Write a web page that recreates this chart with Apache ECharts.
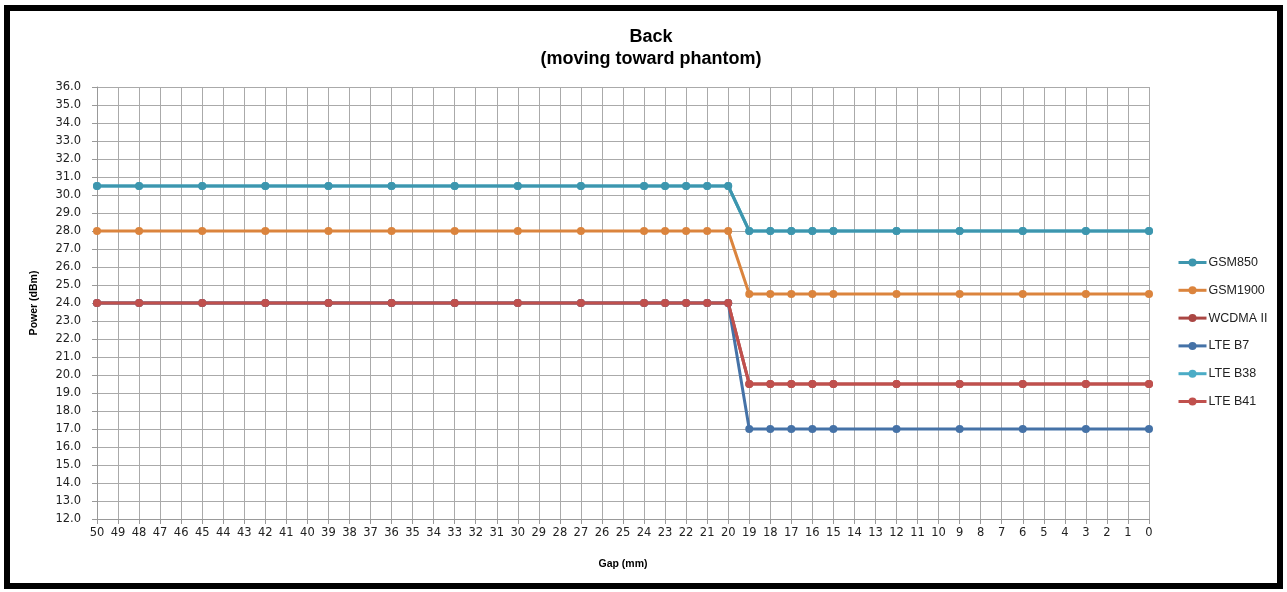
<!DOCTYPE html>
<html>
<head>
<meta charset="utf-8">
<script src="https://cdn.jsdelivr.net/npm/echarts@6/dist/echarts.min.js"></script>
<style>
html,body{margin:0;padding:0;background:#fff;}
#c{width:1287px;height:592px;}
</style>
</head>
<body>
<div id="c"></div>
<script>
// Category labels (gap in mm)
var gapLabels = ['50','49','48','47','46','45','44','43','42','41','40','39','38','37','36','35','34','33','32','31','30','29','28','27','26','25','24','23','22','21','20','19','18','17','16','15','14','13','12','11','10','9','8','7','6','5','4','3','2','1','0'];
// Measured gap positions
var measuredGaps = ['50','48','45','42','39','36','33','30','27','24','23','22','21','20','19','18','17','16','15','12','9','6','3','0'];
// Power values (dBm) at each measured gap
var gsm850   = [30.5,30.5,30.5,30.5,30.5,30.5,30.5,30.5,30.5,30.5,30.5,30.5,30.5,30.5,28.0,28.0,28.0,28.0,28.0,28.0,28.0,28.0,28.0,28.0];
var gsm1900  = [28.0,28.0,28.0,28.0,28.0,28.0,28.0,28.0,28.0,28.0,28.0,28.0,28.0,28.0,24.5,24.5,24.5,24.5,24.5,24.5,24.5,24.5,24.5,24.5];
var wcdma2   = [24.0,24.0,24.0,24.0,24.0,24.0,24.0,24.0,24.0,24.0,24.0,24.0,24.0,24.0,19.5,19.5,19.5,19.5,19.5,19.5,19.5,19.5,19.5,19.5];
var lteB7    = [24.0,24.0,24.0,24.0,24.0,24.0,24.0,24.0,24.0,24.0,24.0,24.0,24.0,24.0,17.0,17.0,17.0,17.0,17.0,17.0,17.0,17.0,17.0,17.0];
var lteB38   = [30.5,30.5,30.5,30.5,30.5,30.5,30.5,30.5,30.5,30.5,30.5,30.5,30.5,30.5,28.0,28.0,28.0,28.0,28.0,28.0,28.0,28.0,28.0,28.0];
var lteB41   = [24.0,24.0,24.0,24.0,24.0,24.0,24.0,24.0,24.0,24.0,24.0,24.0,24.0,24.0,19.5,19.5,19.5,19.5,19.5,19.5,19.5,19.5,19.5,19.5];
var seriesNames = ['GSM850','GSM1900','WCDMA II','LTE B7','LTE B38','LTE B41'];
var yTicks = {min:12, max:36, interval:1};

function expand(vals){
  var out = gapLabels.map(function(){return null;});
  measuredGaps.forEach(function(g,i){ out[gapLabels.indexOf(g)] = vals[i]; });
  return out;
}

var colors = ['#3D96AE','#DB843D','#AA4643','#4572A7','#4BACC6','#C0504D'];
var zs =     [3, 3, 3, 3, 2, 4];
var allData = [gsm850, gsm1900, wcdma2, lteB7, lteB38, lteB41];

var chart = echarts.init(document.getElementById('c'));
chart.setOption({
  animation:false,
  backgroundColor:'#fff',
  color: colors,
  graphic:[{type:'rect', shape:{x:7, y:8, width:1273, height:578}, style:{fill:'none', stroke:'#000', lineWidth:6}, z:100}],
  title:{
    text:'Back\n(moving toward phantom)',
    left:646, top:21, textAlign:'center',
    textStyle:{fontFamily:'Liberation Sans', fontWeight:'bold', fontSize:18, lineHeight:22, color:'#000'}
  },
  legend:{
    orient:'vertical', left:1172, top:251, itemGap:14.8, itemWidth:28, itemHeight:10,
    data: seriesNames,
    lineStyle:{width:3},
    textStyle:{fontFamily:'Liberation Sans', fontSize:12.5, color:'#222', padding:[0,0,0,-3]}
  },
  grid:{left:97, right:138, top:87, bottom:73},
  xAxis:{
    type:'category', data:gapLabels, boundaryGap:false,
    name:'Gap (mm)', nameLocation:'middle', nameGap:40,
    nameTextStyle:{fontFamily:'Liberation Sans', fontWeight:'bold', fontSize:10.5, color:'#000'},
    axisLine:{lineStyle:{color:'#999'}},
    axisTick:{show:true, length:5, alignWithLabel:true, lineStyle:{color:'#999'}},
    axisLabel:{interval:0, fontFamily:'DejaVu Sans', fontSize:11.5, color:'#222', margin:8},
    splitLine:{show:true, interval:0, lineStyle:{color:'#aaa', width:1}}
  },
  yAxis:{
    type:'value', min:yTicks.min, max:yTicks.max, interval:yTicks.interval,
    name:'Power (dBm)', nameLocation:'middle', nameGap:57, nameRotate:90,
    nameTextStyle:{fontFamily:'Liberation Sans', fontWeight:'bold', fontSize:10.5, color:'#000'},
    axisLine:{show:true, lineStyle:{color:'#999'}},
    axisTick:{show:true, length:5, lineStyle:{color:'#999'}},
    axisLabel:{fontFamily:'DejaVu Sans', fontSize:11.5, color:'#222', margin:16,
      formatter:function(v){return v.toFixed(1);}},
    splitLine:{show:true, lineStyle:{color:'#aaa', width:1}}
  },
  series: seriesNames.map(function(n,i){
    return {
      name:n, type:'line', data:expand(allData[i]), connectNulls:true,
      symbol:'circle', symbolSize:8, showSymbol:true, z:zs[i],
      lineStyle:{width:3, color:colors[i]},
      itemStyle:{color:colors[i]}
    };
  })
});
</script>
</body>
</html>
